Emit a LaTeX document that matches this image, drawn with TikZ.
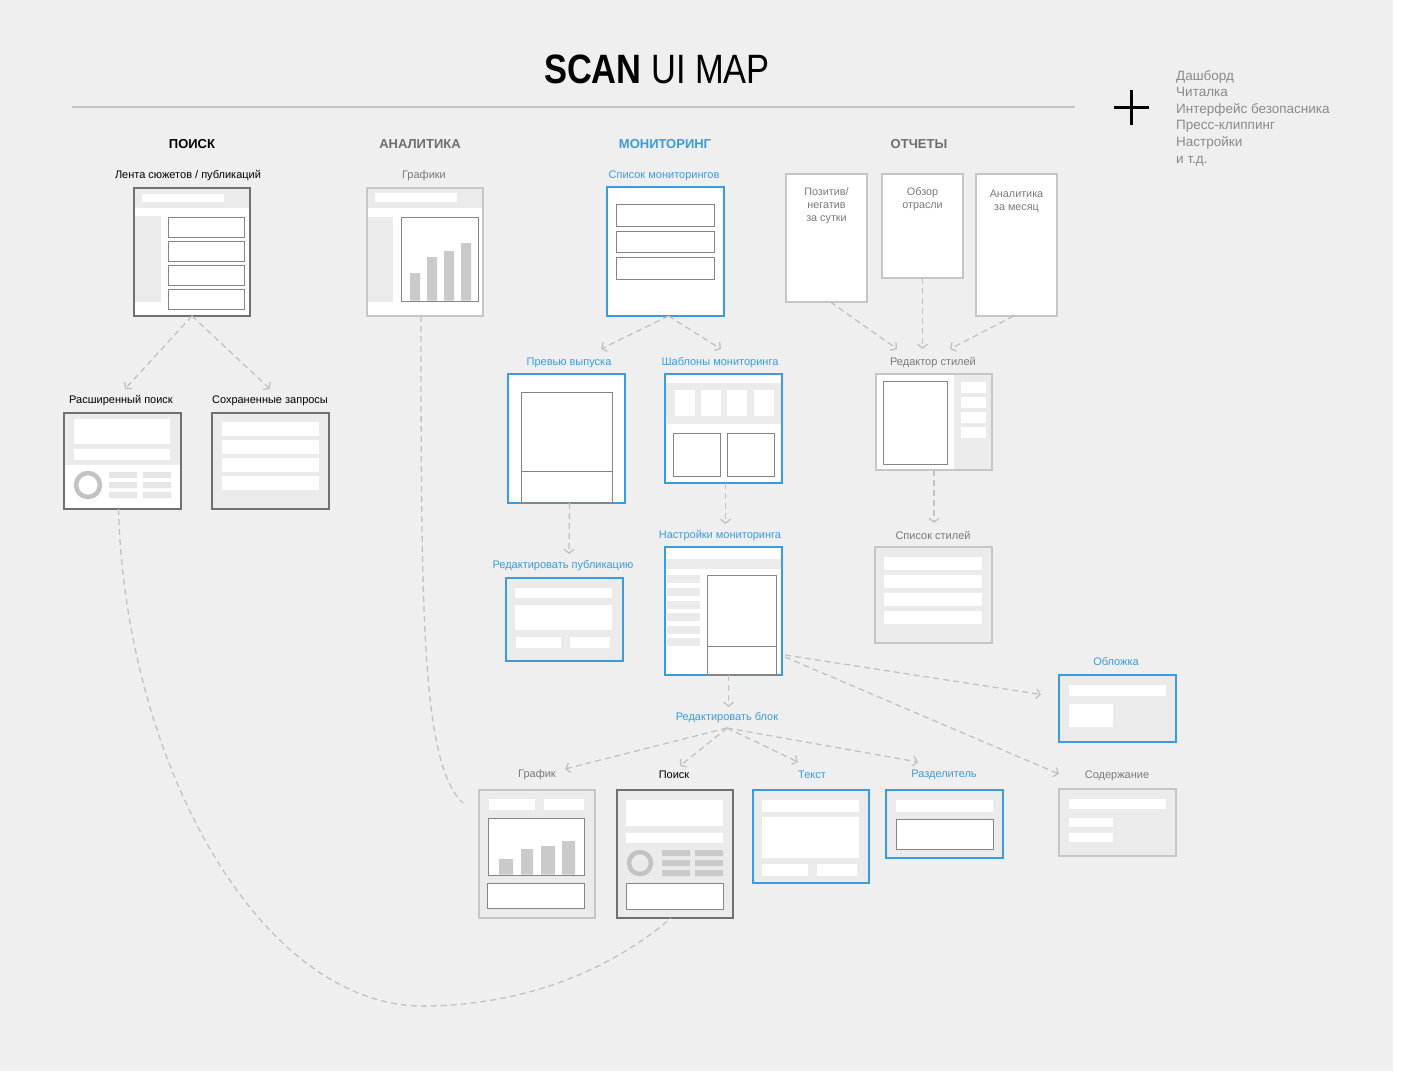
\documentclass[tikz,border=0pt]{standalone}
\usepackage{fontspec}
\setmainfont{Liberation Sans}
\usetikzlibrary{arrows.meta}
\definecolor{bg}{HTML}{EFEFEF}
\definecolor{pane}{HTML}{EBEBEB}
\definecolor{blu}{HTML}{3C9BE0}
\definecolor{boxgray}{HTML}{C6C6C6}
\definecolor{dgray}{HTML}{707070}
\definecolor{wgray}{HTML}{858585}
\definecolor{txtgray}{HTML}{7A7A7A}
\definecolor{hgray}{HTML}{6E6E6E}
\definecolor{listgray}{HTML}{8A8A8A}
\definecolor{dashc}{HTML}{C2C2C2}
\definecolor{barc}{HTML}{CACACA}
\definecolor{ringc}{HTML}{C2C2C2}
\definecolor{lbar}{HTML}{E6E6E6}
\definecolor{rulec}{HTML}{C4C4C4}
\begin{document}
\begin{tikzpicture}[x=1pt,y=-1pt,
  scr/.style={draw=boxgray, line width=1.4pt, fill=white, anchor=north west, inner sep=0pt, outer sep=0pt},
  dscr/.style={scr, draw=dgray},
  bscr/.style={scr, draw=blu, line width=1.7pt},
  lbl/.style={font=\fontsize{11}{13}\selectfont, text=txtgray, inner sep=1pt, yshift=-2pt},
  hdr/.style={font=\fontsize{13}{15}\selectfont\bfseries, inner sep=1pt},
  rtext/.style={font=\fontsize{10.8}{13}\selectfont, text=txtgray, align=center, inner sep=0pt},
  wire/.style={draw=wgray, line width=0.9pt, fill=white},
  link/.style={draw=dashc, line width=1.3pt, dash pattern=on 6pt off 4pt, -{Straight Barb[length=4pt,width=10pt]}},
  curvy/.style={draw=dashc, line width=1.3pt, dash pattern=on 6pt off 4pt}]
\useasboundingbox[fill=white] (0,0) rectangle (1408,1074);
\fill[bg] (0,0) rectangle (1393,1071);
% title
\node (title) at (657,69) {\fontsize{41}{41}\selectfont\scalebox{0.84}[1]{\textbf{SCAN} UI MAP}};
\draw[rulec, line width=1.5pt] (72,107) -- (1075,107);
\draw[line width=3pt] (1114,107) -- (1149,107) (1131.5,90) -- (1131.5,125);
\node[anchor=north west, align=left, text=listgray, font=\fontsize{13.5}{16.6}\selectfont, inner sep=0pt] (extra) at (1176,70) {Дашборд\\Читалка\\Интерфейс безопасника\\Пресс-клиппинг\\Настройки\\и т.д.};
% sections
\node[hdr, text=black] (hpoisk) at (192,144) {ПОИСК};
\node[hdr, text=hgray] (hanal) at (420,144) {АНАЛИТИКА};
\node[hdr, text=blu] (hmon) at (665,144) {МОНИТОРИНГ};
\node[hdr, text=hgray] (hotch) at (919,144) {ОТЧЕТЫ};
% labels
\node[lbl, text=black] (lentaL) at (188,174) {Лента сюжетов / публикаций};
\node[lbl] (grafikiL) at (424,174) {Графики};
\node[lbl, text=blu] (spmonL) at (664,174) {Список мониторингов};
\node[lbl] (redstL) at (933,361) {Редактор стилей};
\node[lbl] (spstL) at (933,533) {Список стилей};
\node[lbl, text=black] (raspL) at (121,399) {Расширенный поиск};
\node[lbl, text=black] (sohrL) at (270,399) {Сохраненные запросы};
\node[lbl, text=blu] (prevL) at (569,361) {Превью выпуска};
\node[lbl, text=blu] (shablL) at (720,361) {Шаблоны мониторинга};
\node[lbl, text=blu] (redpubL) at (563,564) {Редактировать публикацию};
\node[lbl, text=blu] (nastrL) at (720,534) {Настройки мониторинга};
\node[lbl, text=blu] (redblL) at (727,716) {Редактировать блок};
\node[lbl, text=blu] (oblozhL) at (1116,660) {Обложка};
\node[lbl] (soderL) at (1117,774) {Содержание};
\node[lbl] (grafikL) at (537,773) {График};
\node[lbl, text=black] (poiskL) at (674,773) {Поиск};
\node[lbl, text=blu] (tekstL) at (812,773) {Текст};
\node[lbl, text=blu] (razdL) at (944,773) {Разделитель};
% search
\node[dscr, minimum width=116, minimum height=128] (lenta) at (134,188) {};
\fill[pane] (135,189) rectangle (249,208);
\fill[white] (142,194) rectangle (224,202);
\fill[pane] (135,216) rectangle (161,302);
\foreach \y in {217,241,265,289} \draw[wire] (168,\y) rectangle (244,\y+20);
\node[dscr, minimum width=117, minimum height=96] (rasp) at (64,413) {};
\fill[pane] (65,414) rectangle (180,465);
\fill[white] (74,419) rectangle (170,444);
\fill[white] (74,449) rectangle (170,460);
\draw[ringc, line width=4.5pt] (88,485) circle (12pt);
\foreach \y in {472,482,492} \fill[lbar] (109,\y) rectangle (137,\y+6) (143,\y) rectangle (171,\y+6);
\node[dscr, fill=pane, minimum width=117, minimum height=96] (sohr) at (212,413) {};
\foreach \y in {422,440,458,476} \fill[white] (222,\y) rectangle (319,\y+14);
% analytics
\node[scr, minimum width=116, minimum height=128] (grafiki) at (367,188) {};
\fill[pane] (368,189) rectangle (482,208);
\fill[white] (375,193) rectangle (457,202);
\fill[pane] (368,217) rectangle (393,302);
\draw[wire] (401,217) rectangle (478,301);
\fill[barc] (410,273) rectangle (420,300.5) (427,257) rectangle (437,300.5) (444,251) rectangle (454,300.5) (461,243) rectangle (471,300.5);
% monitoring
\node[bscr, minimum width=117, minimum height=129] (spmon) at (607,187) {};
\draw[wire] (616,204) rectangle (714,226);
\draw[wire] (616,231) rectangle (714,252);
\draw[wire] (616,257) rectangle (714,279);
\node[bscr, minimum width=117, minimum height=129] (prev) at (508,374) {};
\draw[wire] (521,392) rectangle (612,502);
\draw[wire] (521,471) -- (612,471);
\node[bscr, minimum width=117, minimum height=109] (shabl) at (665,374) {};
\fill[pane] (666,383) rectangle (781,424);
\foreach \x in {675,701,727,754} \fill[white] (\x,390) rectangle (\x+20,416);
\draw[wire] (673,433) rectangle (720,476);
\draw[wire] (727,433) rectangle (774,476);
\node[bscr, fill=pane, minimum width=117, minimum height=83] (redpub) at (506,578) {};
\fill[white] (515,588) rectangle (612,598);
\fill[white] (515,605) rectangle (612,630);
\fill[white] (516,637) rectangle (561,648);
\fill[white] (570,637) rectangle (610,648);
\node[bscr, minimum width=117, minimum height=128] (nastr) at (665,547) {};
\fill[pane] (666,559) rectangle (781,569);
\foreach \y in {575,588,601,613,626,638} \fill[pane] (667,\y) rectangle (700,\y+8);
\draw[wire] (707,575) rectangle (776,674);
\draw[wire] (707,646) -- (776,646);
\node[bscr, fill=pane, minimum width=117, minimum height=67] (oblozh) at (1059,675) {};
\fill[white] (1069,685) rectangle (1166,696);
\fill[white] (1069,704) rectangle (1113,727);
\node[scr, fill=pane, minimum width=117, minimum height=67] (soder) at (1059,789) {};
\fill[white] (1069,799) rectangle (1166,809);
\fill[white] (1069,818) rectangle (1113,827);
\fill[white] (1069,833) rectangle (1113,842);
% blocks
\node[scr, fill=pane, minimum width=116, minimum height=128] (grafik) at (479,790) {};
\fill[white] (489,799) rectangle (535,810);
\fill[white] (544,799) rectangle (584,810);
\draw[wire] (488,818) rectangle (584,875);
\fill[barc] (499,859) rectangle (513,874.5) (521,849) rectangle (533,874.5) (541,846) rectangle (555,874.5) (562,841) rectangle (575,874.5);
\draw[wire] (487,883) rectangle (584,908);
\node[dscr, fill=pane, minimum width=116, minimum height=128] (poisk) at (617,790) {};
\fill[white] (626,800) rectangle (723,826);
\fill[white] (626,833) rectangle (723,843);
\draw[ringc, line width=4.5pt] (640,863) circle (11pt);
\foreach \y in {850,860,870} \fill[barc] (662,\y) rectangle (690,\y+6) (695,\y) rectangle (723,\y+6);
\draw[wire] (626,883) rectangle (723,909);
\node[bscr, fill=pane, minimum width=116, minimum height=93] (tekst) at (753,790) {};
\fill[white] (762,800) rectangle (859,812);
\fill[white] (762,817) rectangle (859,858);
\fill[white] (762,864) rectangle (808,876);
\fill[white] (817,864) rectangle (857,876);
\node[bscr, fill=pane, minimum width=117, minimum height=68] (razd) at (886,790) {};
\fill[white] (896,800) rectangle (993,812);
\draw[wire] (896,819) rectangle (993,849);
% reports
\node[scr, minimum width=81, minimum height=128] (pozit) at (786,174) {};
\node[rtext] (pozitT) at (826.5,206) {Позитив/\\негатив\\за сутки};
\node[scr, minimum width=81, minimum height=104] (obzor) at (882,174) {};
\node[rtext] (obzorT) at (922.5,199) {Обзор\\отрасли};
\node[scr, minimum width=81, minimum height=142] (anmes) at (976,174) {};
\node[rtext] (anmesT) at (1016.5,201) {Аналитика\\за месяц};
\node[scr, minimum width=116, minimum height=96] (redst) at (876,374) {};
\fill[pane] (954,375) rectangle (991,469);
\foreach \y in {382,397,412,427} \fill[white] (961,\y) rectangle (986,\y+11);
\draw[wire] (883,381) rectangle (947,464);
\node[scr, fill=pane, minimum width=117, minimum height=96] (spst) at (875,547) {};
\foreach \y in {557,575,593,611} \fill[white] (884,\y) rectangle (982,\y+13);
% connectors
\draw[link] (lenta.south) -- ([shift={(4,-12)}]raspL.center);
\draw[link] (lenta.south) -- ([shift={(0,-12)}]sohrL.center);
\draw[link] ([xshift=3pt]spmon.south) -- ([shift={(32,-14)}]prevL.center);
\draw[link] ([xshift=3pt]spmon.south) -- ([shift={(1,-14)}]shablL.center);
\draw[link] ([xshift=4pt]pozit.south) -- ([shift={(-36,-14)}]redstL.center);
\draw[link] (obzor.south) -- ([shift={(-10.5,-14)}]redstL.center);
\draw[link] ([xshift=-3pt]anmes.south) -- ([shift={(17,-14)}]redstL.center);
\draw[link] (redst.south) -- ([shift={(1,-12)}]spstL.center);
\draw[link] ([xshift=3pt]prev.south) -- ([shift={(6,-12)}]redpubL.center);
\draw[link] ([xshift=2pt]shabl.south) -- ([shift={(5.5,-12)}]nastrL.center);
\draw[link] ([xshift=5pt]nastr.south) -- ([shift={(1.5,-11)}]redblL.center);
\draw[link] ([shift={(3,-20)}]nastr.south east) -- ([shift={(-18,-14)}]oblozh.west);
\draw[link] ([shift={(3,-18)}]nastr.south east) -- ([shift={(0,-15)}]soder.north west);
\draw[link] ([shift={(0,10)}]redblL.center) -- ([shift={(28,-6)}]grafikL.center);
\draw[link] ([shift={(0,10)}]redblL.center) -- ([shift={(6,-9)}]poiskL.center);
\draw[link] ([shift={(0,10)}]redblL.center) -- ([shift={(-14,-13)}]tekstL.center);
\draw[link] ([shift={(0,10)}]redblL.center) -- ([shift={(-26,-13)}]razdL.center);
\draw[curvy] ([xshift=-4pt]grafiki.south) .. controls (421,620) and (422,765) .. ([shift={(-16,-51)}]grafik.west);
\coordinate (bend) at (430,1006);
\draw[curvy] ([xshift=-4pt]rasp.south) .. controls (125,760) and (260,1012) .. (bend) .. controls (560,1003) and (640,945) .. ([xshift=-4pt]poisk.south);
\end{tikzpicture}
\end{document}
